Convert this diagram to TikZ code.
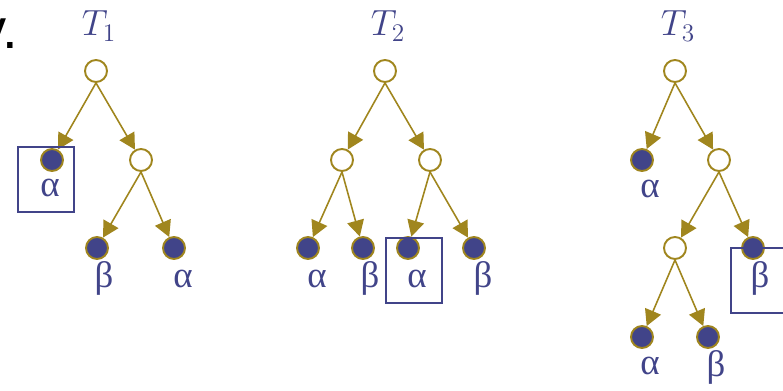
\documentclass[tikz,border=0pt]{standalone}
\usepackage{fontspec}
\newfontfamily\greekfont{Liberation Serif}
\newfontfamily\headfont{Liberation Sans}
\usetikzlibrary{
  calc,
  positioning,
  arrows.meta}
\definecolor{treegold}{HTML}{A0861E}
\definecolor{treeblue}{HTML}{414489}

\begin{document}
\begin{tikzpicture}[
  >={Triangle[length=0.32cm,width=0.34cm]},
  inner/.style={circle,draw=treegold,line width=1.1pt,fill=white,minimum size=0.44cm,inner sep=0pt},
  leaf/.style={inner,fill=treeblue},
  edge/.style={->,color=treegold,line width=0.9pt},
  lab/.style={anchor=base,inner sep=0pt,text=treeblue,font=\greekfont\fontsize{21}{21}\selectfont},
  title/.style={text=treeblue,inner sep=0pt,font=\fontsize{21}{21}\selectfont},
  pick/.style={draw=treeblue,line width=0.9pt}
]%
  \useasboundingbox (0,0) rectangle (15.66,7.82);

  \node[anchor=base east,inner sep=0pt,font=\headfont\fontsize{32}{32}\selectfont] (cut) at (0.36,6.84) {v.};

  % T_1
  \node[title] (T1) at (1.98,7.30) {$T_1$};
  \node[inner] (r1)  at (1.92,6.40) {};
  \node[leaf]  (l1a) at (1.04,4.62) {};
  \node[inner] (i1)  at (2.82,4.62) {};
  \node[leaf]  (l1b) at (1.94,2.86) {};
  \node[leaf]  (l1c) at (3.48,2.86) {};

  \node[lab] (g1a) at ($(l1a)+(-0.04,-0.74)$) {α};
  \node[lab] (g1b) at ($(l1b)+(0.14,-0.80)$) {β};
  \node[lab] (g1c) at ($(l1c)+(0.18,-0.80)$) {α};

  \draw[edge] (r1.south) -- (l1a);
  \draw[edge] (r1.south) -- (i1);
  \draw[edge] (i1.south) -- (l1b);
  \draw[edge] (i1.south) -- (l1c);

  \draw[pick] ($(l1a)+(-0.68,0.26)$) rectangle ($(l1a)+(0.44,-1.04)$);

  % T_2
  \node[title] (T2) at (7.76,7.30) {$T_2$};
  \node[inner] (r2)  at (7.70,6.40) {};
  \node[inner] (i2a) at (6.84,4.62) {};
  \node[inner] (i2b) at (8.60,4.62) {};
  \node[leaf]  (l2a) at (6.16,2.86) {};
  \node[leaf]  (l2b) at (7.26,2.86) {};
  \node[leaf]  (l2c) at (8.16,2.86) {};
  \node[leaf]  (l2d) at (9.48,2.86) {};

  \node[lab] (g2a) at ($(l2a)+(0.18,-0.80)$) {α};
  \node[lab] (g2b) at ($(l2b)+(0.14,-0.80)$) {β};
  \node[lab] (g2c) at ($(l2c)+(0.18,-0.80)$) {α};
  \node[lab] (g2d) at ($(l2d)+(0.18,-0.80)$) {β};

  \draw[edge] (r2.south) -- (i2a);
  \draw[edge] (r2.south) -- (i2b);
  \draw[edge] (i2a.south) -- (l2a);
  \draw[edge] (i2a.south) -- (l2b);
  \draw[edge] (i2b.south) -- (l2c);
  \draw[edge] (i2b.south) -- (l2d);

  \draw[pick] ($(l2c)+(-0.44,0.20)$) rectangle ($(l2c)+(0.68,-1.10)$);

  % T_3
  \node[title] (T3) at (13.56,7.30) {$T_3$};
  \node[inner] (r3)  at (13.50,6.40) {};
  \node[leaf]  (l3a) at (12.84,4.62) {};
  \node[inner] (i3a) at (14.38,4.62) {};
  \node[inner] (i3b) at (13.50,2.86) {};
  \node[leaf]  (l3b) at (15.06,2.86) {};
  \node[leaf]  (l3c) at (12.84,1.08) {};
  \node[leaf]  (l3d) at (14.16,1.08) {};

  \node[lab] (g3a) at ($(l3a)+(0.16,-0.76)$) {α};
  \node[lab] (g3b) at ($(l3b)+(0.14,-0.80)$) {β};
  \node[lab] (g3c) at ($(l3c)+(0.16,-0.76)$) {α};
  \node[lab] (g3d) at ($(l3d)+(0.16,-0.80)$) {β};

  \draw[edge] (r3.south) -- (l3a);
  \draw[edge] (r3.south) -- (i3a);
  \draw[edge] (i3a.south) -- (i3b);
  \draw[edge] (i3a.south) -- (l3b);
  \draw[edge] (i3b.south) -- (l3c);
  \draw[edge] (i3b.south) -- (l3d);

  \draw[pick] ($(l3b)+(-0.44,0)$) rectangle ($(l3b)+(0.80,-1.30)$);

\end{tikzpicture}
\end{document}
